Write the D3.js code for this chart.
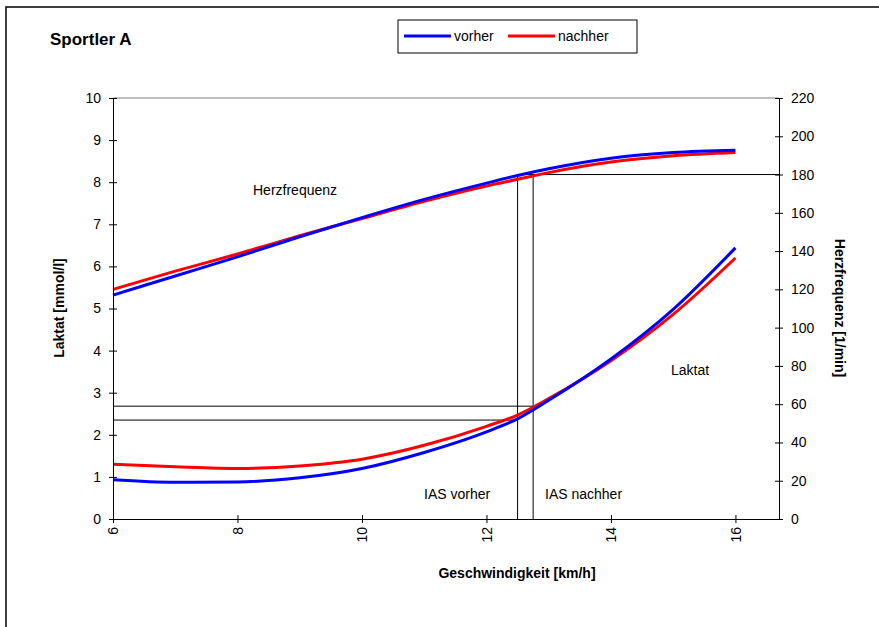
<!DOCTYPE html>
<html>
<head>
<meta charset="utf-8">
<script src="https://cdn.jsdelivr.net/npm/d3@7"></script>
<style>
  body { margin: 0; background: #fff; }
  text { font-family: "Liberation Sans", Arial, sans-serif; }
</style>
</head>
<body>
<svg id="chart" width="879" height="627"></svg>
<script>
// speed [km/h]
var speed = [6, 7, 8, 9, 10, 11, 12, 12.5, 13, 14, 15, 16];
// lactate [mmol/l]
var laktatVorher  = [0.93, 0.87, 0.88, 0.98, 1.2, 1.58, 2.07, 2.38, 2.82, 3.8, 4.98, 6.44];
var laktatNachher = [1.3, 1.24, 1.2, 1.26, 1.42, 1.75, 2.2, 2.47, 2.86, 3.76, 4.86, 6.2];
// heart rate [1/min]
var hfVorher  = [117, 127, 137, 147.5, 157.5, 167, 175.5, 179.5, 183, 188.5, 191.5, 192.7];
var hfNachher = [120, 129.5, 138.5, 148, 157, 166, 174, 177.5, 181, 186.5, 189.8, 191.5];
// IAS thresholds
var iasVorher = { speed: 12.5, laktat: 2.35 };
var iasNachher = { speed: 12.75, laktat: 2.68 };
var iasHf = 180;

var xTicks = [6, 8, 10, 12, 14, 16];
var yTicks = d3.range(0, 11, 1);
var y2Ticks = d3.range(0, 221, 20);

var svg = d3.select("#chart");
var pLeft = 113, pRight = 779, pTop = 98, pBottom = 519;

var x = d3.scaleLinear().domain([6, 16.7]).range([pLeft, pRight]);
var y = d3.scaleLinear().domain([0, 10]).range([pBottom, pTop]);
var y2 = d3.scaleLinear().domain([0, 220]).range([pBottom, pTop]);

// outer frame
svg.append("rect").attr("x", 6).attr("y", 7).attr("width", 900).attr("height", 700)
  .attr("fill", "none").attr("stroke", "#000").attr("stroke-width", 1.5);

// plot area top border
svg.append("line").attr("x1", pLeft).attr("x2", pRight).attr("y1", pTop).attr("y2", pTop)
  .attr("stroke", "#808080");

// reference lines
var ref = svg.append("g").attr("stroke", "#000").attr("stroke-width", 1);
ref.append("line").attr("x1", pLeft).attr("x2", x(iasVorher.speed))
  .attr("y1", y(iasVorher.laktat)).attr("y2", y(iasVorher.laktat));
ref.append("line").attr("x1", pLeft).attr("x2", x(iasNachher.speed))
  .attr("y1", y(iasNachher.laktat)).attr("y2", y(iasNachher.laktat));
ref.append("line").attr("x1", x(iasVorher.speed)).attr("x2", x(iasVorher.speed))
  .attr("y1", pBottom).attr("y2", y2(iasHf));
ref.append("line").attr("x1", x(iasNachher.speed)).attr("x2", x(iasNachher.speed))
  .attr("y1", pBottom).attr("y2", y2(iasHf));
ref.append("line").attr("x1", x(iasVorher.speed)).attr("x2", pRight)
  .attr("y1", y2(iasHf)).attr("y2", y2(iasHf));

// curves
function drawLine(vals, scale, color) {
  var line = d3.line().curve(d3.curveMonotoneX)
    .x(function(d, i) { return x(speed[i]); })
    .y(function(d) { return scale(d); });
  svg.append("path").datum(vals).attr("d", line)
    .attr("fill", "none").attr("stroke", color).attr("stroke-width", 3);
}
drawLine(hfNachher, y2, "#ff0000");
drawLine(hfVorher, y2, "#0000ff");
drawLine(laktatNachher, y, "#ff0000");
drawLine(laktatVorher, y, "#0000ff");

// axes
function crossTicks(g) {
  g.select(".domain").attr("stroke", "#000");
  g.selectAll(".tick line").attr("stroke", "#000");
}
var gy = svg.append("g").attr("transform", "translate(" + pLeft + ",0)")
  .call(d3.axisLeft(y).tickValues(yTicks).tickSize(4).tickSizeOuter(0).tickPadding(8));
gy.selectAll(".tick line").attr("x2", 4).attr("x1", -4);
gy.selectAll("text").style("font-size", "14px").attr("fill", "#000");
crossTicks(gy);

var gy2 = svg.append("g").attr("transform", "translate(" + pRight + ",0)")
  .call(d3.axisRight(y2).tickValues(y2Ticks).tickSize(4).tickSizeOuter(0).tickPadding(8));
gy2.selectAll(".tick line").attr("x1", -4).attr("x2", 4);
gy2.selectAll("text").style("font-size", "14px").attr("fill", "#000");
crossTicks(gy2);

var gx = svg.append("g").attr("transform", "translate(0," + pBottom + ")")
  .call(d3.axisBottom(x).tickValues(xTicks).tickSize(4).tickSizeOuter(0));
gx.selectAll(".tick line").attr("y1", -4).attr("y2", 4);
gx.selectAll("text").style("font-size", "14px").attr("fill", "#000")
  .attr("transform", "rotate(-90)").attr("text-anchor", "end")
  .attr("x", -8).attr("y", 0).attr("dy", "0.35em");
crossTicks(gx);

// title
svg.append("text").attr("x", 50).attr("y", 45).text("Sportler A")
  .style("font-size", "17px").style("font-weight", "bold");

// axis titles
svg.append("text").attr("transform", "translate(64,308) rotate(-90)")
  .attr("text-anchor", "middle").style("font-size", "14px").style("font-weight", "bold")
  .text("Laktat [mmol/l]");
svg.append("text").attr("transform", "translate(835,308) rotate(90)")
  .attr("text-anchor", "middle").style("font-size", "14px").style("font-weight", "bold")
  .text("Herzfrequenz [1/min]");
svg.append("text").attr("x", 517).attr("y", 578)
  .attr("text-anchor", "middle").style("font-size", "14px").style("font-weight", "bold")
  .text("Geschwindigkeit [km/h]");

// annotations
var notes = [
  { t: "Herzfrequenz", x: 253, y: 195 },
  { t: "Laktat", x: 671, y: 375 },
  { t: "IAS vorher", x: 424, y: 499 },
  { t: "IAS nachher", x: 545, y: 499 }
];
svg.selectAll(".note").data(notes).enter().append("text")
  .attr("x", function(d) { return d.x; }).attr("y", function(d) { return d.y; })
  .style("font-size", "14px").text(function(d) { return d.t; });

// legend
var lg = svg.append("g");
lg.append("rect").attr("x", 398).attr("y", 20).attr("width", 239).attr("height", 33)
  .attr("fill", "#fff").attr("stroke", "#000").attr("stroke-width", 1);
var legendItems = [
  { name: "vorher", color: "#0000ff", x: 404 },
  { name: "nachher", color: "#ff0000", x: 508 }
];
legendItems.forEach(function(d) {
  lg.append("line").attr("x1", d.x).attr("x2", d.x + 47).attr("y1", 36).attr("y2", 36)
    .attr("stroke", d.color).attr("stroke-width", 3);
  lg.append("text").attr("x", d.x + 50).attr("y", 41).style("font-size", "14px").text(d.name);
});
</script>
</body>
</html>
